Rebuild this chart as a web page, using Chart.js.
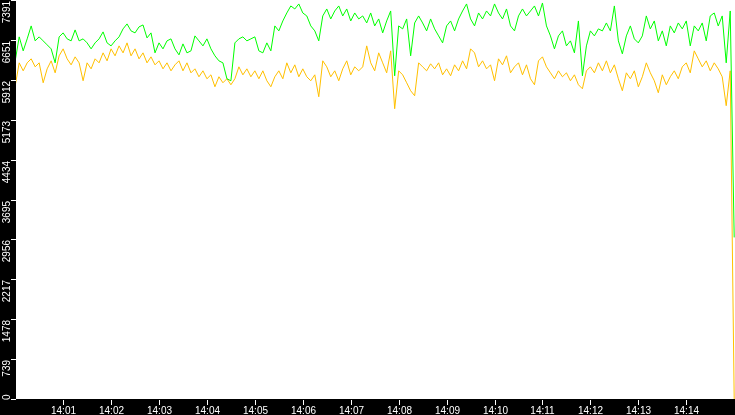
<!DOCTYPE html>
<html>
<head>
<meta charset="utf-8">
<title>Throughput</title>
<script src="https://cdn.jsdelivr.net/npm/chart.js@4/dist/chart.umd.min.js"></script>
<style>
  html, body { margin: 0; padding: 0; background: #000; }
  #chart { display: block; background: #000; }
</style>
</head>
<body>
<canvas id="chart" width="735" height="415"></canvas>
<script>
// samples every 5 s starting at 14:00:00
const startSecond = 0;
const stepSeconds = 5;

const greenValues = [
  6264, 6708, 6449, 6671, 6911, 6634, 6708, 6634, 6560, 6486,
  6227, 6708, 6782, 6671, 6634, 6837, 6634, 6671, 6597, 6486,
  6597, 6671, 6800, 6597, 6541, 6634, 6708, 6856, 6948, 6819,
  6782, 6893, 6929, 6689, 6782, 6412, 6597, 6486, 6634, 6671,
  6486, 6375, 6578, 6412, 6449, 6726, 6634, 6541, 6671, 6486,
  6357, 6264, 6227, 5932, 5895, 6597, 6671, 6708, 6634, 6671,
  6708, 6449, 6412, 6597, 6449, 6911, 6819, 7003, 7151, 7281,
  7225, 7318, 7151, 7096, 6911, 6819, 6634, 7096, 7225, 7040,
  7188, 7281, 7096, 7225, 7003, 7151, 7040, 7096, 6966, 7151,
  6911, 7040, 6782, 7003, 7188, 5987, 6911, 6856, 7040, 6357,
  6966, 7096, 6966, 6819, 7040, 6856, 6726, 6597, 6911, 7003,
  6819, 7040, 7188, 7318, 7040, 6911, 7151, 7040, 7188, 7096,
  7318, 7151, 7040, 7225, 6911, 6819, 7096, 7225, 7096, 7188,
  7281, 7096, 7336, 6911, 6726, 6486, 6726, 6819, 6541, 6634,
  6412, 7003, 5987, 6541, 6819, 6726, 6856, 6819, 6966, 6819,
  7281, 6634, 6394, 6726, 6911, 6671, 6597, 6726, 7096, 6856,
  7003, 6634, 6819, 6541, 6911, 6782, 6966, 6856, 7003, 6541,
  6911, 6819, 6966, 6634, 7096, 7151, 6911, 7096, 6227, 7188,
  2993
];

const yellowValues = [
  5802, 6227, 6079, 6227, 6301, 6153, 6227, 5858, 6116, 6264,
  6042, 6357, 6486, 6301, 6190, 6338, 6227, 5895, 6227, 6116,
  6301, 6227, 6412, 6264, 6486, 6357, 6541, 6412, 6597, 6357,
  6486, 6301, 6412, 6227, 6338, 6190, 6264, 6116, 6227, 6079,
  6190, 6264, 6079, 6227, 6042, 6116, 5969, 6079, 5932, 6005,
  5784, 5969, 5858, 5932, 5821, 5932, 6153, 6005, 6116, 5969,
  6079, 5932, 6079, 5895, 5784, 5969, 6079, 5932, 6227, 6042,
  6190, 5969, 6116, 5969, 5895, 6005, 5599, 6264, 6153, 5969,
  6079, 5895, 6116, 6264, 6005, 6153, 6079, 6153, 6541, 6227,
  6079, 6412, 6227, 6042, 6449, 5377, 6079, 6005, 5858, 5710,
  5617, 6227, 6153, 6079, 6209, 6116, 6227, 6005, 6116, 5987,
  6190, 6079, 6264, 6116, 6486, 6412, 6153, 6264, 6116, 6190,
  5895, 6301, 6190, 6357, 6042, 6153, 6227, 6005, 6190, 5932,
  5821, 6264, 6338, 6153, 6042, 5932, 6079, 5969, 6042, 5895,
  6005, 5821, 5747, 6079, 6153, 6042, 6227, 6079, 6264, 6042,
  6190, 5932, 5710, 6042, 5932, 6079, 5784, 5969, 6227, 6042,
  5895, 5673, 6005, 5821, 5969, 6079, 5932, 6153, 6227, 6042,
  6449, 6301, 6153, 6264, 6079, 6227, 6116, 5969, 5433, 6079,
  0
];

const yTickValues = [0, 739, 1478, 2217, 2956, 3695, 4434, 5173, 5912, 6651, 7391];
const xTickSeconds = [60, 120, 180, 240, 300, 360, 420, 480, 540, 600, 660, 720, 780, 840];
const xTickLabels = ['14:01', '14:02', '14:03', '14:04', '14:05', '14:06', '14:07',
  '14:08', '14:09', '14:10', '14:11', '14:12', '14:13', '14:14'];

function toPoints(values) {
  return values.map((v, i) => ({ x: startSecond + i * stepSeconds, y: v }));
}

// white plot area, black frame with small white ticks and rotated y labels
const framePainter = {
  id: 'framePainter',
  beforeDraw(chart) {
    const { ctx, chartArea } = chart;
    ctx.save();
    ctx.fillStyle = '#ffffff';
    ctx.fillRect(chartArea.left, chartArea.top,
      chartArea.right - chartArea.left, chartArea.bottom - chartArea.top);
    ctx.restore();
  },
  afterDraw(chart) {
    const { ctx, chartArea, scales } = chart;
    ctx.save();
    ctx.strokeStyle = '#ffffff';
    ctx.fillStyle = '#ffffff';
    ctx.lineWidth = 1;
    ctx.font = '10px "Liberation Sans", Arial, sans-serif';

    // x axis
    ctx.textAlign = 'center';
    ctx.textBaseline = 'alphabetic';
    xTickSeconds.forEach((s, i) => {
      const px = Math.round(scales.x.getPixelForValue(s)) + 0.5;
      ctx.beginPath();
      ctx.moveTo(px, chartArea.bottom + 1);
      ctx.lineTo(px, chartArea.bottom + 6);
      ctx.stroke();
      ctx.fillText(xTickLabels[i], px, chartArea.bottom + 15);
    });

    // y axis
    yTickValues.forEach(v => {
      const py = Math.round(scales.y.getPixelForValue(v));
      ctx.beginPath();
      ctx.moveTo(chartArea.left - 5, py + 0.5);
      ctx.lineTo(chartArea.left, py + 0.5);
      ctx.stroke();
      const label = String(v);
      const w = ctx.measureText(label).width;
      let end = py + 1;
      if (end + w > chartArea.bottom + 1) end = chartArea.bottom + 1 - w;
      ctx.save();
      ctx.translate(chartArea.left - 6, end);
      ctx.rotate(-Math.PI / 2);
      ctx.textAlign = 'right';
      ctx.fillText(label, 0, 0);
      ctx.restore();
    });
    ctx.restore();
  }
};

new Chart(document.getElementById('chart'), {
  type: 'line',
  data: {
    datasets: [
      {
        label: 'green',
        data: toPoints(greenValues),
        borderColor: '#00ff00',
        borderWidth: 1,
        pointRadius: 0,
        tension: 0
      },
      {
        label: 'yellow',
        data: toPoints(yellowValues),
        borderColor: '#ffc000',
        borderWidth: 1,
        pointRadius: 0,
        tension: 0
      }
    ]
  },
  options: {
    responsive: false,
    animation: false,
    devicePixelRatio: 1,
    layout: { padding: { left: 16, bottom: 16, top: 0, right: 0 } },
    plugins: {
      legend: { display: false },
      tooltip: { enabled: false }
    },
    scales: {
      x: { type: 'linear', display: false, min: 1, max: 901 },
      y: { display: false, min: 0, max: 7391 }
    }
  },
  plugins: [framePainter]
});
</script>
</body>
</html>
